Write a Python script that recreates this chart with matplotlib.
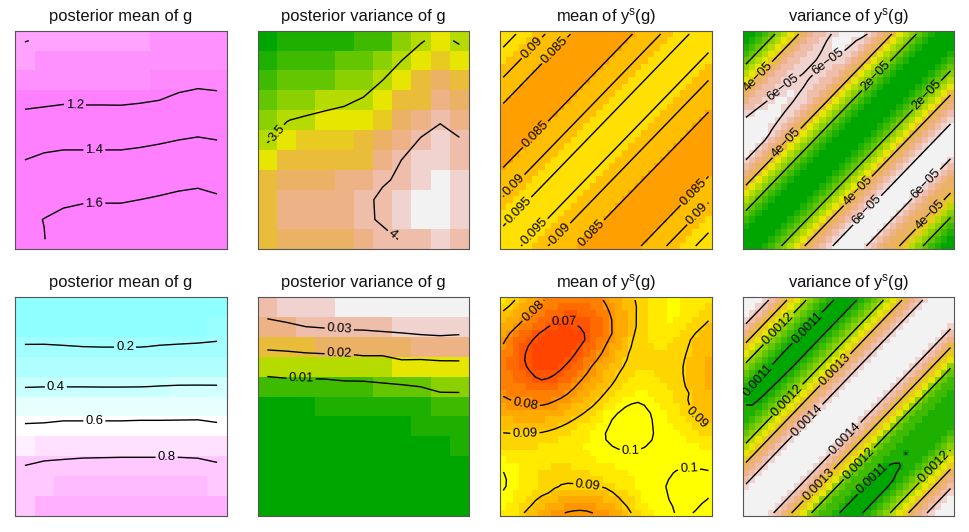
#Two rows of image + contour panels: posterior of g and the mean/variance of y^s(g).
import numpy as np
import matplotlib
matplotlib.use("Agg")
import matplotlib.pyplot as plt
from matplotlib.colors import ListedColormap

plt.rcParams['font.family'] = ['Liberation Sans', 'DejaVu Sans']
plt.rcParams['mathtext.default'] = 'regular'

#palettes
terrain = ["#00A600", "#1DB000", "#3EBB00", "#63C600", "#8BD000", "#B6DB00", "#E6E600",
           "#E7CB21", "#E9BD3A", "#EBB165", "#EDB387", "#EEBEAA", "#F0D3CE", "#F2F2F2"]
heat_top = ["#FFA000", "#FFBF00", "#FFE000"]
heat_bot = ["#FF4500", "#FF5500", "#FF6A00", "#FF8000", "#FF9500", "#FFAA00", "#FFBF00", "#FFD500", "#FFEA00", "#FFFF00"]
magenta = ["#FFA3FF", "#FF91FF", "#FF88FF", "#FF80FF"]
cyan_pink = ["#90FFFF", "#99FFFF", "#A3FFFF", "#B0FFFF", "#C8FFFF", "#D2FFFF", "#E8FFFF", "#FFFFFF",
             "#FFF0FF", "#FFE0FF", "#FFC8FF", "#FFBBFF", "#FFB0FF"]

#top left: posterior mean of g, rows from the top
mean_g_top = [
    [0.995, 1.02, 1.04, 1.045, 1.05, 1.055, 1.07, 1.085, 1.09, 1.09, 1.09],
    [1.07, 1.085, 1.09, 1.09, 1.09, 1.095, 1.10, 1.11, 1.115, 1.12, 1.115],
    [1.10, 1.11, 1.12, 1.12, 1.12, 1.12, 1.125, 1.14, 1.143, 1.143, 1.14],
    [1.15, 1.165, 1.18, 1.175, 1.175, 1.175, 1.185, 1.20, 1.235, 1.28, 1.255],
    [1.26, 1.27, 1.275, 1.28, 1.28, 1.275, 1.285, 1.31, 1.33, 1.345, 1.335],
    [1.33, 1.345, 1.36, 1.36, 1.36, 1.36, 1.37, 1.382, 1.40, 1.41, 1.40],
    [1.40, 1.43, 1.44, 1.44, 1.44, 1.44, 1.45, 1.47, 1.48, 1.49, 1.47],
    [1.46, 1.49, 1.50, 1.51, 1.51, 1.51, 1.52, 1.54, 1.56, 1.57, 1.55],
    [1.52, 1.55, 1.57, 1.585, 1.587, 1.587, 1.60, 1.615, 1.63, 1.64, 1.62],
    [1.57, 1.603, 1.64, 1.655, 1.66, 1.66, 1.67, 1.68, 1.69, 1.69, 1.67],
    [1.59, 1.595, 1.69, 1.71, 1.72, 1.72, 1.72, 1.73, 1.73, 1.73, 1.70]]
mean_g_top_breaks = [1.08, 1.13, 1.146]

#top, second panel: posterior variance of g
var_g_top = [
    [3.04, 3.125, 3.125, 3.125, 3.125, 3.21, 3.21, 3.375, 3.49, 3.54, 3.481],
    [3.125, 3.21, 3.21, 3.21, 3.29, 3.29, 3.38, 3.50, 3.56, 3.63, 3.58],
    [3.21, 3.29, 3.29, 3.29, 3.38, 3.39, 3.50, 3.56, 3.71, 3.76, 3.71],
    [3.29, 3.375, 3.41, 3.43, 3.46, 3.52, 3.58, 3.71, 3.74, 3.85, 3.79],
    [3.40, 3.495, 3.525, 3.56, 3.59, 3.59, 3.63, 3.79, 3.88, 3.98, 3.87],
    [3.49, 3.55, 3.63, 3.63, 3.63, 3.71, 3.79, 3.87, 4.02, 4.09, 4.02],
    [3.56, 3.71, 3.71, 3.71, 3.71, 3.72, 3.88, 4.002, 4.06, 4.08, 4.02],
    [3.70, 3.79, 3.79, 3.79, 3.87, 3.87, 3.985, 4.02, 4.06, 4.13, 4.06],
    [3.70, 3.85, 3.85, 3.85, 3.85, 3.97, 4.025, 4.06, 4.13, 4.13, 4.06],
    [3.70, 3.85, 3.85, 3.85, 3.85, 3.97, 4.02, 4.06, 4.13, 4.13, 4.06],
    [3.70, 3.79, 3.79, 3.79, 3.79, 3.87, 3.96, 4.01, 4.02, 4.06, 4.02]]
var_g_top_breaks = [3.084, 3.167, 3.25, 3.334, 3.418, 3.53, 3.6, 3.669, 3.752, 3.836, 3.9, 4.03, 4.1]

#bottom left: posterior mean of g
mean_g_bot = [
    [0.05, 0.05, 0.05, 0.05, 0.05, 0.05, 0.05, 0.05, 0.05, 0.05, 0.05],
    [0.12, 0.125, 0.125, 0.125, 0.12, 0.12, 0.125, 0.13, 0.13, 0.13, 0.145],
    [0.21, 0.21, 0.205, 0.20, 0.197, 0.197, 0.197, 0.205, 0.21, 0.215, 0.22],
    [0.31, 0.32, 0.32, 0.32, 0.32, 0.32, 0.32, 0.33, 0.33, 0.335, 0.33],
    [0.395, 0.398, 0.398, 0.398, 0.397, 0.397, 0.398, 0.402, 0.405, 0.405, 0.405],
    [0.51, 0.51, 0.51, 0.51, 0.51, 0.51, 0.51, 0.51, 0.515, 0.52, 0.52],
    [0.615, 0.62, 0.635, 0.635, 0.635, 0.635, 0.64, 0.64, 0.64, 0.64, 0.62],
    [0.70, 0.72, 0.725, 0.73, 0.735, 0.74, 0.74, 0.74, 0.74, 0.735, 0.72],
    [0.805, 0.83, 0.84, 0.85, 0.85, 0.85, 0.85, 0.85, 0.85, 0.845, 0.82],
    [0.87, 0.88, 0.91, 0.91, 0.91, 0.91, 0.91, 0.91, 0.91, 0.91, 0.88],
    [0.885, 0.95, 0.96, 0.96, 0.96, 0.96, 0.96, 0.96, 0.96, 0.955, 0.95]]
mean_g_bot_breaks = [0.135, 0.17, 0.26, 0.36, 0.403, 0.45, 0.56, 0.67, 0.715, 0.78, 0.89, 0.945]

#bottom, second panel: posterior variance of g
var_g_bot = [
    [0.0323, 0.0355, 0.0355, 0.0355, 0.038, 0.038, 0.038, 0.038, 0.038, 0.038, 0.038],
    [0.0285, 0.0285, 0.030, 0.0305, 0.0312, 0.0313, 0.032, 0.0327, 0.033, 0.0335, 0.033],
    [0.0215, 0.0219, 0.0225, 0.0235, 0.0235, 0.0238, 0.0238, 0.0241, 0.0255, 0.0258, 0.0255],
    [0.0125, 0.0135, 0.0145, 0.0137, 0.0138, 0.0155, 0.0155, 0.0179, 0.017, 0.0176, 0.0178],
    [0.0075, 0.0075, 0.007, 0.0078, 0.0085, 0.008, 0.0088, 0.0092, 0.0101, 0.0118, 0.0119],
    [0.0015, 0.0015, 0.002, 0.0025, 0.0028, 0.003, 0.0035, 0.0039, 0.0045, 0.0055, 0.0055],
    [0.001, 0.001, 0.001, 0.001, 0.001, 0.001, 0.0015, 0.0019, 0.0025, 0.0028, 0.003],
    [0.001, 0.001, 0.001, 0.001, 0.001, 0.001, 0.001, 0.001, 0.0015, 0.0018, 0.0026],
    [0.0005, 0.0005, 0.0005, 0.0005, 0.0005, 0.0005, 0.0005, 0.001, 0.001, 0.001, 0.0015],
    [0.0005, 0.0005, 0.0005, 0.0005, 0.0005, 0.0005, 0.0005, 0.0005, 0.0005, 0.0005, 0.001],
    [0.0005, 0.0005, 0.0005, 0.0005, 0.0005, 0.0005, 0.0005, 0.0005, 0.0005, 0.0005, 0.0005]]
var_g_bot_breaks = [0.0022, 0.0052, 0.0088, 0.0105, 0.012, 0.0165, 0.0195, 0.021, 0.023, 0.025, 0.029, 0.0325, 0.0375]

#diagonal panels: value along each diagonal, top left corner to bottom right corner
mean_ys_diag = [96.5, 95.7, 95.0, 94.0, 92.8, 91.7, 90.6, 89.5, 88.1, 86.8, 85.5, 84.5, 83.7, 83.0, 82.6, 82.4, 82.4,
                82.7, 83.2, 84.0, 84.8, 86.1, 87.3, 88.5, 89.4, 90.5, 91.7, 92.8, 93.9, 95.0, 95.8, 96.3, 96.5,
                96.3, 95.8, 94.8, 93.6, 92.4, 91.2, 90.0, 88.9, 87.8, 86.8, 85.8, 84.8, 84.0, 83.3, 82.8, 82.5,
                82.4, 82.6, 83.0, 83.6, 84.5, 85.5, 86.8, 88.1, 89.5, 90.6, 91.7, 92.8, 94.0, 95.0, 95.8, 96.5]
var_ys_top_diag = [0.4, 0.7, 1.0, 1.35, 1.75, 2.2, 2.75, 3.3, 3.85, 4.4, 4.9, 5.4, 5.8, 6.15, 6.4, 6.55, 6.6,
                   6.5, 6.25, 6.0, 5.6, 5.1, 4.5, 3.9, 3.3, 2.8, 2.3, 1.85, 1.4, 1.0, 0.7, 0.45, 0.35,
                   0.45, 0.65, 0.95, 1.3, 1.75, 2.2, 2.75, 3.3, 3.9, 4.4, 4.9, 5.35, 5.8, 6.15, 6.4, 6.6,
                   6.5, 6.25, 5.95, 5.6, 5.2, 4.75, 4.35, 4.0, 3.45, 2.9, 2.35, 1.85, 1.4, 1.0, 0.7, 0.4]
var_ys_bot_diag = [14.9, 14.7, 14.5, 14.2, 13.85, 13.5, 13.15, 12.8, 12.45, 12.12, 11.85, 11.6, 11.35, 11.12, 10.96, 10.87, 10.87,
                   10.95, 11.1, 11.33, 11.6, 11.85, 12.13, 12.48, 12.85, 13.2, 13.5, 13.8, 14.1, 14.35, 14.55, 14.65, 14.7,
                   14.65, 14.55, 14.35, 14.1, 13.8, 13.45, 13.05, 12.7, 12.4, 12.07, 11.8, 11.55, 11.3, 11.1, 10.95, 10.86,
                   10.88, 10.96, 11.12, 11.35, 11.6, 11.85, 12.12, 12.45, 12.85, 13.2, 13.55, 13.9, 14.2, 14.45, 14.65, 14.85]

#how the ridge and troughs change along the diagonals, bottom left to top right
neck_top = [1.0]*20 + [0.97, 0.92, 0.87, 0.85, 0.82, 0.8, 0.78, 0.76, 0.75, 0.74, 0.72, 0.7, 0.68, 0.67, 0.66,
                       0.65, 0.65, 0.65, 0.65, 0.65, 0.66, 0.68, 0.7, 0.74, 0.77, 0.8, 0.81, 0.83, 0.84, 0.85] + [1.0]*15
trough_up = [0.15]*17 + [0.07, 0.06, 0.05, 0.05, 0.04, 0.04, 0.03, 0.03, 0.02, 0.02, 0.01, 0.01] + [0.0]*36
trough_low = [0.0]*28 + [0.03, 0.05, 0.1, 0.1, 0.16, 0.16, 0.13] + [0.2]*30

mean_ys_top_breaks = [85.5, 92.8]
mean_ys_bot_breaks = [68.5, 72, 75.5, 79, 82.5, 86, 89.5, 93, 96.5]
var_ys_top_breaks = [0.75, 1.2, 1.65, 2.1, 2.55, 3.0, 3.45, 3.9, 4.35, 4.8, 5.25, 5.7, 6.15]
var_ys_bot_breaks = [11.02, 11.29, 11.56, 11.83, 12.1, 12.37, 12.64, 12.91, 13.18, 13.45, 13.72, 13.99, 14.26]

#bottom, third panel: mean of y^s(g), units of 1e-3, rows from the top
mean_ys_bot = [
    [94, 92, 90, 87.8, 85.5, 83.3, 81.1, 79, 77.5, 76.5, 76, 75.8, 76, 76.5, 77.5, 79, 81, 83, 85, 87, 89, 91, 92.5, 94, 95, 96, 96.5, 96.8, 96.5, 96, 95, 94, 93],
    [91.5, 89.8, 87.6, 85.4, 83.1, 80.9, 78.8, 77, 75.5, 74.5, 74, 73.8, 74, 74.8, 75.8, 77.5, 79.5, 81.8, 84, 86, 88.2, 90.5, 92.3, 94, 95.3, 96.3, 96.8, 97, 96.5, 96, 95, 93.5, 92],
    [89.5, 87.4, 85.1, 82.9, 80.4, 78.5, 76.5, 74.5, 73, 72, 71.8, 71.5, 72, 73, 74.5, 76, 78.5, 81, 83, 85.3, 88.3, 90.7, 92.5, 94.2, 95.6, 96.6, 97, 97, 96.3, 95.3, 94, 92.5, 91],
    [87.5, 85.2, 82.7, 80.2, 78, 76, 74, 72.5, 71.4, 70.9, 70.9, 70.8, 70.9, 71.5, 73, 75, 77.5, 80.1, 82.5, 85, 87.5, 91, 93, 94.5, 95.8, 96.5, 96.8, 96.5, 95.5, 94.3, 92.8, 91, 90],
    [85.5, 83, 80.2, 78, 76, 74.5, 72.5, 70, 68.5, 67.5, 68, 69, 70.6, 72, 73.5, 75.5, 77.8, 80.2, 82.7, 85.2, 87.5, 91, 92.8, 94.4, 95.5, 96, 96, 95.3, 94, 92.5, 91.3, 90.2, 89],
    [83, 79.8, 77, 75, 73.5, 70.8, 69, 67.5, 66.5, 66, 66, 66.8, 67.8, 71, 73, 75.2, 77.5, 79.8, 82.3, 85.3, 89.6, 91, 92.6, 93.8, 94.8, 95, 94.8, 94, 92.7, 91, 90, 88.5, 87.5],
    [81, 78.6, 75, 73, 71, 69.2, 67.5, 66.5, 65.5, 65, 65, 65.5, 67.5, 70.5, 73, 76.5, 79, 81.5, 84, 87, 89.9, 91.2, 92, 93, 93.8, 94, 93.5, 92.8, 91.5, 90.2, 88.8, 87.5, 86.5],
    [79.9, 77.5, 75, 71.8, 69.5, 68, 66.5, 65.5, 65, 65.5, 66.5, 68.3, 70, 73, 75.8, 78, 80.3, 82.5, 85, 87.5, 90.2, 91.5, 92.5, 93, 93.2, 93.2, 92.8, 92, 91, 89.8, 88.5, 87.3, 86.5],
    [78, 75.5, 73.5, 71, 68.7, 67, 65.8, 65, 65, 66, 67.5, 69.3, 71.5, 74, 76.5, 79, 81.5, 84, 86.5, 89.2, 91, 92, 92.7, 93, 93, 92.7, 92, 91, 90.5, 89.7, 88, 87, 86],
    [77.5, 75, 73, 70.5, 68.5, 67.2, 66.2, 65.8, 66.2, 67, 69, 71, 73.5, 76, 78.3, 81, 83, 85.3, 87.5, 89.5, 91.2, 92, 92.7, 92.8, 92.5, 92, 91.3, 90.7, 90.5, 89, 87.5, 86.5, 85.5],
    [77, 74.8, 73, 71, 69.3, 68, 67, 66.7, 67.5, 69, 71, 73, 75.3, 78, 80.8, 83, 85, 87, 88.6, 90.5, 91.8, 92.6, 93, 92.8, 92.3, 91.7, 91, 90.5, 90.1, 88.8, 87.3, 86.2, 85],
    [77.5, 75.5, 73.8, 72.3, 70.5, 69.3, 68.5, 68.3, 69.5, 71, 73, 75, 77.5, 79.8, 82.3, 84.2, 86, 88, 90, 91.5, 92.6, 93.3, 93.5, 93.2, 92.5, 91.8, 91.2, 90.6, 90.1, 89, 87.5, 86.2, 85],
    [78.5, 76.7, 75, 73.7, 72.2, 70, 69.6, 70.4, 71.2, 73, 75, 77, 79.5, 81.7, 83.7, 85.8, 87.7, 89, 91, 92.3, 93.5, 94.2, 94.5, 94, 93.2, 92.3, 91.6, 91, 90.2, 89.2, 87.6, 86.3, 85.2],
    [78.5, 77.7, 76.7, 75.5, 74.3, 73.3, 72.7, 73, 74, 75.5, 77.5, 79.3, 81.8, 83.8, 85.8, 87.7, 88.6, 90.5, 92, 93.5, 94.7, 95.3, 95.6, 95, 94, 93, 92.3, 91.6, 90.3, 89.3, 87.8, 86.7, 85.6],
    [79.4, 78.8, 78.3, 77.8, 77, 76.3, 76, 76.2, 77, 78.3, 79.5, 81.7, 83.7, 85.5, 87.3, 88.5, 90.2, 92, 93.8, 95.2, 96.2, 96.8, 96.8, 96, 95, 94, 93.2, 92.3, 91.2, 90.2, 88.7, 87.3, 86.3],
    [80.6, 79.9, 79.5, 79.3, 79.2, 79.1, 79, 79, 79.6, 80.3, 82, 83.6, 85.2, 86.8, 88.5, 90, 92, 94, 95.8, 97.5, 99, 99.6, 99.4, 97.5, 96, 94.6, 93.4, 92.3, 91, 89.5, 88.5, 87.3, 86.7],
    [83.5, 82, 80.7, 80.05, 80.05, 80.05, 79.9, 80.5, 81.5, 83.5, 85, 86.3, 87.5, 88.7, 89.8, 91.8, 93.8, 95.8, 97.5, 100.2, 100.8, 101.2, 100.2, 98.2, 96.8, 95.5, 94.5, 93.3, 91.5, 90.1, 89, 88, 87.5],
    [85.5, 84.5, 83.5, 83, 82.8, 82.7, 83, 83.3, 84.5, 85.7, 87, 88, 89, 90.4, 93, 95, 97, 99, 100.5, 101.7, 102.5, 103, 102.3, 100.1, 98, 96.5, 95.2, 94, 92.5, 90.5, 89.5, 88.7, 88.2],
    [87, 86.3, 85.7, 85.5, 85.5, 85.7, 86, 86.5, 87, 87.8, 88.8, 90, 91.5, 93, 94.5, 96.3, 98.3, 100.2, 101.5, 102.7, 103.5, 103.5, 103, 100.2, 98.7, 97.3, 96, 94.8, 93.3, 92, 90.4, 89.2, 88.8],
    [88.5, 88, 87.8, 87.7, 88, 88.3, 88.6, 89, 89.4, 90, 91, 92, 93, 94.3, 95.7, 97.3, 99.2, 101, 102.5, 103.5, 104, 103.8, 102.2, 100.3, 99.2, 98, 96.7, 95.5, 94.3, 93, 92, 91, 90.3],
    [90.2, 90.1, 90.1, 90.1, 90.05, 90.05, 90.1, 90.5, 91, 91.8, 92.6, 93.5, 94.5, 95.5, 97.8, 99, 100.2, 101.5, 102.8, 103.7, 104, 103.5, 101.7, 100.4, 99.5, 98.7, 97.5, 96.5, 95.5, 94.5, 93.5, 92.5, 92],
    [91, 91, 91, 91, 91.2, 91.5, 91.8, 92.2, 92.7, 93.3, 94, 94.7, 95.5, 96.5, 97.5, 98.7, 100.1, 101.3, 102.3, 103, 103, 102.6, 101.5, 100.1, 99.4, 99, 98.3, 97.5, 96.5, 95.7, 95, 94.2, 93.7],
    [92.7, 92.7, 92.8, 92.8, 93, 93, 93.2, 93.5, 93.7, 94.2, 94.7, 95.4, 96, 96.8, 97.5, 98.3, 99.3, 99.9, 100.8, 101.2, 101.2, 100.8, 100, 99.5, 99, 98.7, 98.5, 98, 97.5, 97, 96.5, 96, 95.5],
    [94.5, 94.3, 94.2, 94.2, 94, 93.8, 93.7, 93.8, 94, 94.3, 94.8, 95.3, 96, 96.5, 97, 97.5, 98, 98.5, 99, 99.3, 99.5, 99.4, 99.3, 99, 98.7, 98.6, 98.6, 98.6, 98.6, 98.5, 98.2, 98, 97.5],
    [97, 96.5, 96, 95.5, 95, 94.3, 94, 93.7, 93.7, 94, 94.3, 94.7, 95.2, 95.7, 96.2, 96.7, 97, 97.3, 97.6, 97.8, 98, 98, 98, 98, 98.2, 98.5, 98.9, 99, 99.2, 99.3, 99.3, 99.3, 99],
    [99, 98, 97, 96, 95, 94.2, 93.5, 93, 92.7, 92.7, 92.8, 93.2, 93.7, 94.3, 94.8, 95.3, 95.8, 96.2, 96.5, 96.8, 97, 97.2, 97.5, 97.8, 98.2, 98.7, 99.2, 99.5, 99.6, 99.6, 99.6, 99.6, 99.5],
    [100.4, 99, 97.8, 96.3, 95, 94, 93, 92.3, 91.8, 91.5, 91.5, 91.7, 92.2, 92.8, 93.5, 94, 94.5, 95, 95.5, 96, 96.5, 97, 97.5, 98, 98.5, 99.2, 99.7, 100.4, 100.5, 100.6, 100.6, 100.5, 100.3],
    [101.3, 99, 97.5, 96, 94.5, 93, 92, 91.2, 90.7, 90.4, 90.3, 90.4, 90.8, 91.3, 92, 92.7, 93.5, 94.3, 95, 95.7, 96.5, 97.2, 97.8, 98.4, 99, 99.6, 100.1, 101, 101.2, 101.3, 101.2, 101, 100.7],
    [101.3, 99, 97.4, 96, 94.7, 93.3, 92, 91.2, 90.6, 89.9, 89.9, 89.85, 89.9, 89.9, 89.9, 89.8, 90.2, 91.5, 93, 94.5, 95.8, 97, 98, 98.8, 99.5, 99.9, 100.3, 101, 101.2, 101.3, 101.2, 100.9, 100.5],
    [99.7, 97.7, 96, 94.4, 93.2, 92, 91, 90.4, 89.2, 88.2, 87.5, 87.3, 87.2, 87.2, 87.5, 88, 88.7, 89.7, 91, 92.7, 94.3, 96, 97.3, 98.2, 99, 99.7, 100.2, 100.8, 101, 101, 100.8, 100.5, 100.3],
    [98.5, 96.5, 95, 93.4, 92, 90.2, 88.8, 87.3, 86, 85, 84.5, 84.2, 84, 84.2, 84.5, 85, 86, 87.5, 89.6, 91.2, 93, 95, 96.8, 97.8, 98.7, 99.5, 100.2, 100.6, 100.7, 100.7, 100.6, 100.4, 99.9],
    [97.5, 95.7, 94, 92.5, 90.6, 88.7, 87, 85.5, 84, 83, 82, 81.5, 81.2, 81.3, 81.7, 82.5, 83.7, 85.5, 87.5, 89.6, 91.2, 93, 95, 96.7, 98, 99, 99.7, 100.5, 100.5, 100.5, 100.5, 99.8, 99],
    [96.5, 94.8, 93, 90.2, 88, 86, 84.3, 82.8, 81.5, 80, 79.3, 78.9, 78.8, 79.1, 79.7, 80.8, 82, 83.5, 85.8, 87.8, 90, 91.7, 93.8, 95.7, 97.3, 98.5, 99.4, 100.3, 100.4, 100.3, 99.7, 99, 98]]

#the three diagonal panels are put together from their profiles
n = 33
mean_ys_top = np.zeros((n, n))
var_ys_top = np.zeros((n, n))
var_ys_bot = np.zeros((n, n))
for r in range(n):
    for c in range(n):
        k = c + r - 32      #which diagonal
        s = c + 32 - r      #how far along it
        mean_ys_top[r, c] = mean_ys_diag[c + r]
        v = var_ys_top_diag[c + r]
        if k < 0 and v > 5:
            v = 5 + (v - 5)*neck_top[s]
        var_ys_top[r, c] = v
        w = var_ys_bot_diag[c + r]
        if -18 <= k <= -15:
            w = w + trough_up[s]
        if 15 <= k <= 18:
            w = w + trough_low[s]
        var_ys_bot[r, c] = w


#takes the reading noise out of a hand read grid (1-2-1 in both directions)
def steady(z):
    z = np.array(z, dtype=float)
    p = np.pad(z, 1, mode='edge')
    p = (p[:-2, 1:-1] + 2*p[1:-1, 1:-1] + p[2:, 1:-1])/4 * 0.5 + (p[1:-1, :-2] + 2*p[1:-1, 1:-1] + p[1:-1, 2:])/4 * 0.5
    return p


def draw_panel(ax, z, breaks, colors, levels, fmt, spots, title):
    z = np.array(z, dtype=float)[::-1]
    ny, nx = z.shape
    xe = np.linspace(0, 1, nx + 1)
    ye = np.linspace(0, 1, ny + 1)
    xc = (xe[:-1] + xe[1:])/2
    yc = (ye[:-1] + ye[1:])/2
    ax.pcolormesh(xe, ye, np.digitize(z, breaks), cmap=ListedColormap(colors),
                  vmin=-0.5, vmax=len(colors) - 0.5, antialiased=True, linewidth=0)
    cs = ax.contour(xc, yc, z, levels=levels, colors='k', linewidths=1.0)
    ax.clabel(cs, fmt=fmt, manual=spots, inline=True, inline_spacing=2, fontsize=9.4, colors='k')
    ax.set_xlim(0, 1)
    ax.set_ylim(0, 1)
    ax.set_xticks([])
    ax.set_yticks([])
    for sp in ax.spines.values():
        sp.set_color('#555555')
        sp.set_linewidth(0.8)
    ax.set_title(title, fontsize=11.9, pad=7, color='#111111')


W = 969.0
H = 532.0
fig = plt.figure(figsize=(W/100, H/100), dpi=100)
lefts = [15.3, 257.7, 500.0, 742.7]
widths = [211.4, 211.3, 211.7, 211.0]
rows = [(30.7, 249.3), (296.7, 516.3)]
axs = [[fig.add_axes([l/W, 1 - b/H, w/W, (b - t)/H]) for l, w in zip(lefts, widths)] for t, b in rows]

mean_title = "posterior mean of g"
var_title = "posterior variance of g"
ys_mean_title = "mean of $y^s$(g)"
ys_var_title = "variance of $y^s$(g)"
m = "\u2212"

draw_panel(axs[0][0], mean_g_top, mean_g_top_breaks, magenta, [1.0, 1.2, 1.4, 1.6],
           {1.0: "1", 1.2: "1.2", 1.4: "1.4", 1.6: "1.6"},
           [(0.282, 0.657), (0.374, 0.454), (0.374, 0.206)], mean_title)
draw_panel(axs[0][1], var_g_top, var_g_top_breaks, terrain, [3.5, 4.0],
           {3.5: "3.5", 4.0: "4"},
           [(0.087, 0.535), (0.634, 0.066)], var_title)
draw_panel(axs[0][2], mean_ys_top, mean_ys_top_breaks, heat_top, [85, 90, 95],
           {85: "0.085", 90: "0.09", 95: "0.095"},
           [(0.157, 0.916), (0.26, 0.909), (0.173, 0.521), (0.071, 0.29), (0.079, 0.187),
            (0.165, 0.081), (0.291, 0.065), (0.433, 0.073), (0.913, 0.263), (0.929, 0.164)], ys_mean_title)
draw_panel(axs[0][3], var_ys_top, var_ys_top_breaks, terrain, [2, 4, 6],
           {2: "2e" + m + "05", 4: "4e" + m + "05", 6: "6e" + m + "05"},
           [(0.066, 0.797), (0.193, 0.736), (0.407, 0.851), (0.209, 0.485), (0.636, 0.79), (0.873, 0.706),
            (0.549, 0.264), (0.597, 0.172), (0.866, 0.302), (0.889, 0.157)], ys_var_title)
draw_panel(axs[1][0], mean_g_bot, mean_g_bot_breaks, cyan_pink, [0.2, 0.4, 0.6, 0.8],
           {0.2: "0.2", 0.4: "0.4", 0.6: "0.6", 0.8: "0.8"},
           [(0.519, 0.769), (0.192, 0.587), (0.374, 0.432), (0.716, 0.262)], mean_title)
draw_panel(axs[1][1], var_g_bot, var_g_bot_breaks, terrain, [0.01, 0.02, 0.03],
           {0.01: "0.01", 0.02: "0.02", 0.03: "0.03"},
           [(0.386, 0.853), (0.386, 0.737), (0.205, 0.625)], var_title)
draw_panel(axs[1][2], steady(mean_ys_bot), mean_ys_bot_breaks, heat_bot, [70, 80, 90, 100],
           {70: "0.07", 80: "0.08", 90: "0.09", 100: "0.1"},
           [(0.157, 0.935), (0.302, 0.866), (0.118, 0.502), (0.118, 0.377), (0.929, 0.448),
            (0.617, 0.302), (0.893, 0.21), (0.414, 0.134)], ys_mean_title)
draw_panel(axs[1][3], var_ys_bot, var_ys_bot_breaks, terrain, [11, 12, 13, 14],
           {11: "0.0011", 12: "0.0012", 13: "0.0013", 14: "0.0014"},
           [(0.166, 0.857), (0.291, 0.873), (0.098, 0.599), (0.217, 0.524), (0.438, 0.668), (0.304, 0.44),
            (0.494, 0.349), (0.343, 0.159), (0.557, 0.235), (0.62, 0.167), (0.905, 0.228)], ys_var_title)

fig.savefig("out.png", dpi=100)
